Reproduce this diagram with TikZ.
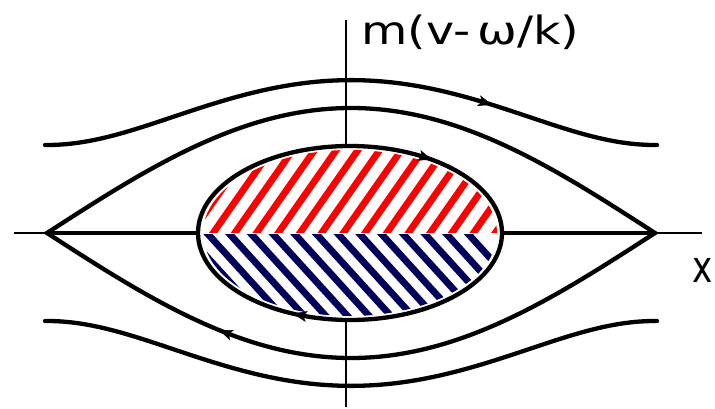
\documentclass[tikz,border=0pt]{standalone}
\usepackage{fontspec}
\setmainfont{DejaVu Sans}
\usetikzlibrary{arrows.meta}
\definecolor{hatchred}{RGB}{255,0,0}
\definecolor{hatchnavy}{RGB}{0,0,90}
\tikzset{
  declare function={
    sep(\x)=125*cos(0.296053*(\x-351));
    opn(\x)=100*sqrt(1.5625*cos(0.296053*(\x-351))^2+0.7744);
    ell(\x)=87*sqrt(max(0,1-((\x-350)/152)^2));
  },
  axisline/.style={line width=1.3pt},
  orbit/.style={line width=4.3pt, line join=round, line cap=round},
  flowtip/.style={line width=0.5pt, -{Stealth[length=14pt,width=11pt,inset=3.5pt]}},
  redhatch/.style={hatchred, line width=6.8pt},
  navyhatch/.style={hatchnavy, line width=6.8pt},
  axislabel/.style={inner sep=0pt, font=\fontsize{39}{41}\selectfont},
}
\begin{document}
\begin{tikzpicture}[x=1pt,y=-1pt]
\useasboundingbox (0,0) rectangle (715,409);
% axes
\draw[axisline] (14,233) -- (702,233);
\draw[axisline] (346,20) -- (346,407);
% separatrix
\draw[orbit] plot[domain=47:655, samples=160, smooth] (\x, {233-sep(\x)});
\draw[orbit] plot[domain=47:655, samples=160, smooth] (\x, {233+sep(\x)});
\draw[orbit] (47,233) -- (198,233);
\draw[orbit] (502,233) -- (655,233);
% open orbits
\draw[orbit] plot[domain=45:657, samples=160, smooth] (\x, {233-opn(\x)});
\draw[orbit] plot[domain=45:657, samples=160, smooth] (\x, {233+opn(\x)});
% trapped orbit with hatching
\fill[white] (350,233) ellipse [x radius=152, y radius=87];
\begin{scope}
  \clip (350,233) ellipse [x radius=147, y radius=83];
  \begin{scope}
    \clip (190,140) rectangle (510,232);
    \foreach \k in {-12,...,12} \draw[redhatch] ({338.4+21.7*\k},240) -- ++(70,-100);
  \end{scope}
  \begin{scope}
    \clip (190,234) rectangle (510,330);
    \foreach \k in {-12,...,12} \draw[navyhatch] ({200.6+21.7*\k},226) -- ++(100,110);
  \end{scope}
\end{scope}
\draw[orbit] (350,233) ellipse [x radius=152, y radius=87];
% flow arrows
\draw[flowtip] (482,{233-opn(482)}) -- (492,{233-opn(492)});
\draw[flowtip] (422,{233-ell(422)}) -- (432,{233-ell(432)});
\draw[flowtip] (303,{233+ell(303)}) -- (293,{233+ell(293)});
\draw[flowtip] (229,{233+sep(229)}) -- (219,{233+sep(219)});
% labels
\node[axislabel, anchor=base west] (vlabel) at (361,45) {\scalebox{1.22}[1]{m(v-\hspace{6pt}ω/k)}};
\node[axislabel, anchor=base west, font=\fontsize{44}{46}\selectfont] (xlabel) at (692,282) {\scalebox{0.78}[1]{x}};
\end{tikzpicture}
\end{document}
